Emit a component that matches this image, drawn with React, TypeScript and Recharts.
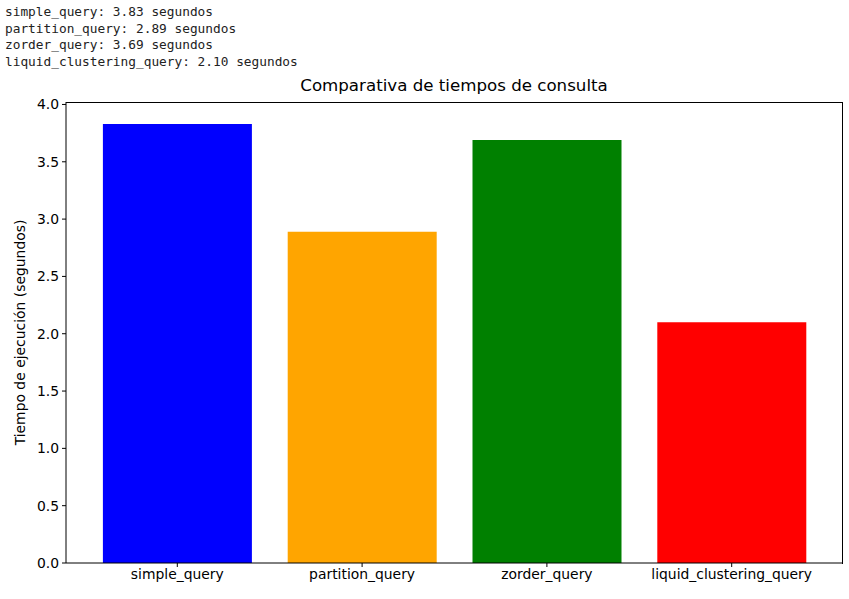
import React from "react";
import { BarChart, Bar, XAxis, YAxis, Cell } from "recharts";

const categories = ["simple_query", "partition_query", "zorder_query", "liquid_clustering_query"];
const times = [3.83, 2.89, 3.69, 2.10];
const colors = ["#0000ff", "#ffa500", "#008000", "#ff0000"];
const yTicks = [0, 0.5, 1.0, 1.5, 2.0, 2.5, 3.0, 3.5, 4.0];
const logLines = categories.map((c, i) => `${c}: ${times[i].toFixed(2)} segundos`);

const data = categories.map((c, i) => ({ name: c, value: times[i] }));

const font = "'DejaVu Sans', sans-serif";

export default function App() {
  return (
    <div style={{ position: "absolute", left: 0, top: 0, width: 849, height: 599, background: "#fff" }}>
      <div
        style={{
          position: "absolute",
          left: 5,
          top: 4,
          fontFamily: "'DejaVu Sans Mono', monospace",
          fontSize: 12.8,
          lineHeight: "16.7px",
          color: "#222",
          whiteSpace: "pre",
        }}
      >
        {logLines.map((l) => (
          <div key={l}>{l}</div>
        ))}
      </div>
      <div
        style={{
          position: "absolute",
          left: 66,
          top: 76,
          width: 776,
          textAlign: "center",
          fontFamily: font,
          fontSize: 16.67,
          color: "#000",
        }}
      >
        Comparativa de tiempos de consulta
      </div>
      <div style={{ position: "absolute", left: 0, top: 0 }}>
        <BarChart
          width={849}
          height={599}
          data={data}
          margin={{ top: 102, right: 7, bottom: 0, left: 0 }}
          barSize={149}
        >
          <XAxis
            dataKey="name"
            height={36}
            padding={{ left: 18.9, right: 17.9 }}
            axisLine={{ stroke: "#000" }}
            tickLine={{ stroke: "#000" }}
            tickSize={4}
            tick={{ fill: "#000", fontSize: 13.9, fontFamily: font }}
            tickMargin={2}
          />
          <YAxis
            width={66}
            domain={[0, 4.0215]}
            ticks={yTicks}
            tickFormatter={(v: number) => v.toFixed(1)}
            axisLine={{ stroke: "#000" }}
            tickLine={{ stroke: "#000" }}
            tickSize={4}
            tickMargin={3}
            tick={{ fill: "#000", fontSize: 13.9, fontFamily: font }}
            label={{
              value: "Tiempo de ejecución (segundos)",
              angle: -90,
              position: "insideLeft",
              offset: 20,
              style: { textAnchor: "middle", fill: "#000", fontSize: 13.9, fontFamily: font },
            }}
          />
          <Bar dataKey="value" isAnimationActive={false}>
            {data.map((d, i) => (
              <Cell key={d.name} fill={colors[i]} />
            ))}
          </Bar>
        </BarChart>
      </div>
      <div
        style={{
          position: "absolute",
          left: 65.5,
          top: 101.5,
          width: 776,
          height: 461,
          borderTop: "1px solid #000",
          borderRight: "1px solid #000",
          pointerEvents: "none",
        }}
      />
    </div>
  );
}
